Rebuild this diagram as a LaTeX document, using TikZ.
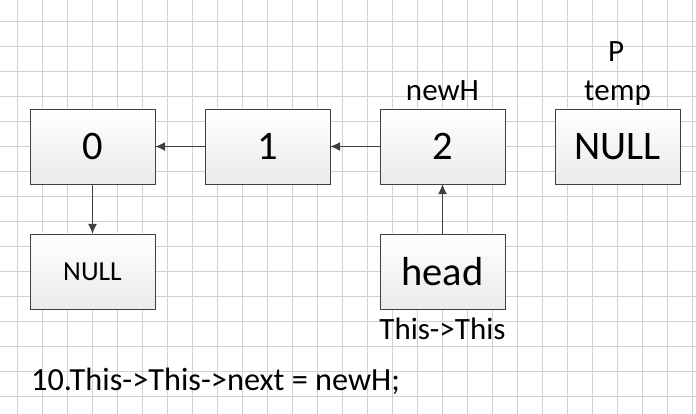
\documentclass[tikz,border=0pt]{standalone}
\usepackage{fontspec}
\setmainfont{Carlito}
\usetikzlibrary{arrows.meta}
\usetikzlibrary{positioning}
\tikzstyle{box} = [draw=black!75, top color=white, bottom color=black!8,
minimum width=125pt, minimum height=75pt, inner sep=0pt]
\tikzstyle{line} = [draw=black!75, line width=1pt, -{Latex[length=10pt,width=9pt]}]

\begin{document}
\begin{tikzpicture}[x=1pt, y=-1pt,
        big/.style={font=\fontsize{40.5}{48}\selectfont},
        small/.style={font=\fontsize{27.5}{32}\selectfont},
        lbl/.style={anchor=base, inner sep=0pt, font=\fontsize{31}{37}\selectfont},
        gridline/.style={black!18, line width=0.8pt}]
        \useasboundingbox (0,0) rectangle (696,414);
        %% Grid
        \foreach \i in {0,...,27}
            \draw [gridline] (17.5+25*\i,0) -- (17.5+25*\i,414);
        \foreach \j in {0,...,15}
            \draw [gridline] (0,21.7+25*\j) -- (696,21.7+25*\j);
        %% Nodes
        \node [box, big] at (92.5,146.5) (N0) {0};
        \node [box, big] at (267.5,146.5) (N1) {1};
        \node [box, big] at (442.5,146.5) (N2) {2};
        \node [box, big] at (617.5,146.5) (Temp) {NULL};
        \node [box, small] at (92.5,271.5) (Null) {NULL};
        \node [box, big] at (442.5,271.5) (Head) {head};
        %% Labels
        \node [lbl] at (442.5,100.5) (NewHLabel) {newH};
        \node [lbl] at (616,61.5) (PLabel) {P};
        \node [lbl] at (617.5,100.5) (TempLabel) {temp};
        \node [lbl] at (442.5,339.5) (ThisLabel) {This->This};
        \node [lbl, anchor=base west, font=\fontsize{32.3}{38}\selectfont] at (31,390.5) (Code) {10.This->This->next = newH;};
        %% Arcs
        \path [line] (N1) -- (N0);
        \path [line] (N2) -- (N1);
        \path [line] (N0) -- (Null);
        \path [line] (Head) -- (N2);
    \end{tikzpicture}
\end{document}
